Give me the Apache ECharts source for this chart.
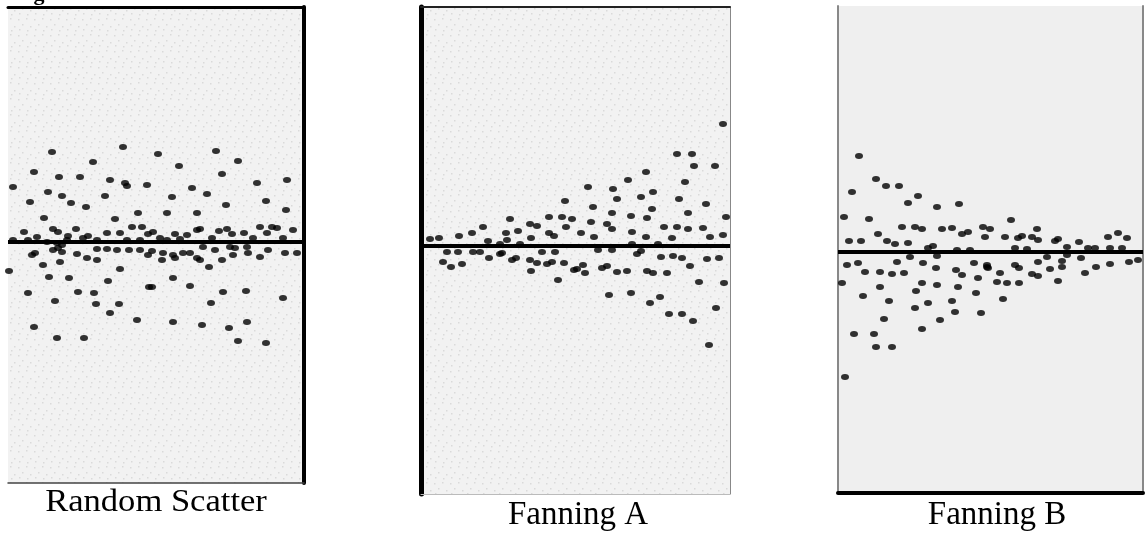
<!DOCTYPE html>
<html>
<head>
<meta charset="utf-8">
<script src="https://cdn.jsdelivr.net/npm/echarts@6/dist/echarts.min.js"></script>
<style>
html,body{margin:0;padding:0;background:#fff;}
#chart{width:1145px;height:535px;}
</style>
</head>
<body>
<div id="chart"></div>
<script>
// Panel titles
const panelTitles = ['Random Scatter', 'Fanning A', 'Fanning B'];

// Residual points [x, residual]
const randomScatter = [
[44,90],[115,95],[85,80],[26,70],[51,65],[72,65],[102,62],[5,55],[40,50],[54,46],[117,59],[119,56],[139,57],[97,46],[22,40],[63,39],[78,35],[130,29],[36,24],[107,23],[124,15],[134,15],[16,10],[45,13],[50,10],[68,13],[60,6],[80,6],[99,9],[112,9],[140,8],
[5,2],[20,2],[29,5],[39,0],[49,-1],[54,-3],[59,2],[75,4],[89,2],[119,2],[132,2],
[24,-13],[27,-11],[50,-6],[54,-10],[69,-12],[79,-16],[89,-7],[89,-18],[99,-7],[109,-8],[121,-8],[132,-8],[140,-13],[45,-8],[35,-23],[52,-20],[112,-27],[1,-29],[41,-35],[61,-36],[100,-39],[141,-45],[20,-51],[70,-50],[86,-51],[47,-59],[88,-62],[111,-62],[102,-71],[129,-78],[26,-85],[49,-96],[76,-96],
[150,88],[208,91],[230,81],[171,76],[214,68],[279,62],[249,59],[184,54],[199,48],[164,45],[258,41],[218,37],[278,32],[159,29],[189,29],
[145,10],[167,8],[179,7],[189,12],[192,13],[211,11],[219,13],[224,8],[236,9],[252,15],[259,9],[264,15],[269,14],[285,12],[204,4],[245,4],[275,4],[152,4],[159,2],[172,3],
[144,-9],[155,-11],[165,-13],[175,-11],[182,-11],[154,-18],[167,-16],[189,-16],[192,-18],[195,-5],[207,-8],[214,-18],[222,-5],[227,-6],[225,-13],[240,-11],[239,-5],[252,-15],[260,-8],[277,-11],[289,-11],
[201,-25],[165,-36],[182,-44],[144,-45],[215,-50],[238,-49],[275,-56],[203,-61],[165,-80],[194,-83],[221,-86],[239,-80],[230,-99],[258,-101]
];

const fanningA = [
[144,45],[89,27],[128,29],[141,29],[151,27],[62,19],[109,22],[116,20],[145,19],[51,13],[38,10],[97,15],[85,13],[128,13],[133,10],[110,8],[9,7],[18,8],[86,6],[67,5],[79,2],[99,2],
[26,-6],[37,-6],[52,-6],[59,-6],[81,-7],[22,-16],[30,-21],[41,-18],[68,-12],[79,-8],[91,-14],[95,-12],[109,-14],[116,-17],[126,-18],[131,-16],[143,-17],[121,-6],[134,-6],[110,-25],[137,-34],[153,-24],
[302,122],[256,92],[271,92],[273,80],[294,80],[225,74],[207,66],[264,64],[167,59],[192,57],[232,54],[196,47],[220,49],[258,47],[285,42],[172,39],[231,37],[191,33],[267,33],[210,30],[305,29],[226,28],[170,24],[186,22],[191,17],[243,19],[256,19],[267,17],[282,18],[160,13],[211,14],[289,9],[302,11],[173,9],[225,9],[251,8],[211,2],[237,2],
[177,-4],[191,-4],[216,-8],[220,-5],[240,-11],[252,-10],[261,-12],[286,-13],[298,-12],[269,-20],[156,-23],[162,-19],[164,-27],[181,-22],[186,-20],[196,-26],[206,-25],[226,-25],[232,-27],[246,-27],[278,-36],[303,-37],[188,-49],[210,-47],[239,-51],[229,-57],[295,-62],[248,-68],[261,-68],[272,-75],[288,-99]
];

const fanningB = [
[21,96],[38,73],[48,66],[61,66],[14,60],[80,56],[70,49],[121,48],[99,45],[6,35],[31,33],[64,25],[77,25],[84,23],[104,23],[114,24],[145,25],[124,18],[130,20],[147,15],[40,18],[11,11],[23,11],[49,11],[57,8],[70,9],[90,4],[95,6],[119,2],[132,2],
[72,-5],[99,-4],[9,-13],[20,-11],[27,-20],[42,-20],[54,-22],[66,-21],[59,-10],[85,-11],[98,-16],[118,-18],[124,-23],[136,-11],[149,-15],[4,-31],[42,-35],[84,-31],[99,-33],[120,-35],[140,-26],[25,-44],[78,-39],[138,-41],[51,-49],[90,-51],[114,-49],[77,-56],[117,-60],[143,-61],[46,-67],[102,-68],[84,-77],[16,-82],[36,-82],[38,-95],[54,-95],[7,-125],
[173,32],[152,23],[199,23],[167,15],[180,14],[184,16],[194,15],[200,12],[217,11],[220,13],[241,10],[270,15],[280,19],[289,14],[229,5],[177,4],[189,3],[250,4],[257,4],[272,4],[284,4],
[209,-5],[229,-3],[243,-6],[149,-13],[150,-16],[200,-10],[224,-9],[224,-15],[177,-13],[181,-16],[212,-17],[258,-15],[272,-12],[291,-10],[300,-8],[162,-21],[194,-22],[200,-24],[247,-21],[159,-30],[169,-31],[181,-31],[220,-29],[165,-47]
];

// Axis extents for each panel [xMin, xMax, yMin, yMax]
const extents = [
  [0, 296, -241, 235],
  [0, 309, -248, 239],
  [0, 305, -241, 246]
];

const panelData = [randomScatter, fanningA, fanningB];

// stippled paper texture for the scanned panels
function stipple() {
  const c = document.createElement('canvas');
  c.width = 16; c.height = 16;
  const ctx = c.getContext('2d');
  ctx.fillStyle = '#f2f2f2';
  ctx.fillRect(0, 0, 16, 16);
  ctx.fillStyle = '#dadada';
  [[2,3],[10,2],[6,8],[14,10],[3,13],[11,14]].forEach(p => ctx.fillRect(p[0], p[1], 1.5, 1.5));
  return c;
}
const tex = stipple();

// layout & styles
const grids = [
  {left: 8, top: 7, width: 296, height: 476, backgroundColor: {image: tex, repeat: 'repeat'}},
  {left: 421, top: 7, width: 309, height: 487, backgroundColor: {image: tex, repeat: 'repeat'}},
  {left: 838, top: 6, width: 305, height: 487, backgroundColor: '#efefef'}
];
// border styles: [bottom, top, left, right]  (null = none)
const borders = [
  [{c:'#444', w:1.5}, {c:'#000', w:3}, null, {c:'#000', w:4}],
  [{c:'#bbb', w:1}, {c:'#222', w:2}, {c:'#000', w:5}, {c:'#888', w:1}],
  [{c:'#000', w:4}, null, {c:'#888', w:2}, {c:'#888', w:2}]
];

function axisLine(b) {
  return b ? {show: true, onZero: false, lineStyle: {color: b.c, width: b.w}} : {show: false};
}

const xAxes = [], yAxes = [], series = [];
grids.forEach((g, i) => {
  const e = extents[i];
  const common = {axisTick:{show:false}, axisLabel:{show:false}, splitLine:{show:false}};
  xAxes.push(Object.assign({type:'value', gridIndex:i, min:e[0], max:e[1], position:'bottom', axisLine: axisLine(borders[i][0])}, common));
  xAxes.push(Object.assign({type:'value', gridIndex:i, min:e[0], max:e[1], position:'top', axisLine: axisLine(borders[i][1])}, common));
  yAxes.push(Object.assign({type:'value', gridIndex:i, min:e[2], max:e[3], position:'left', axisLine: axisLine(borders[i][2])}, common));
  yAxes.push(Object.assign({type:'value', gridIndex:i, min:e[2], max:e[3], position:'right', axisLine: axisLine(borders[i][3])}, common));
  series.push({
    type: 'scatter',
    xAxisIndex: 2*i, yAxisIndex: 2*i,
    data: panelData[i],
    symbol: 'circle',
    symbolSize: [8, 6],
    itemStyle: {color: '#000'},
    silent: true,
    markLine: {
      silent: true, symbol: 'none',
      label: {show: false},
      lineStyle: {color: '#000', width: 4, type: 'solid'},
      data: [{yAxis: 0}]
    }
  });
});

const labelPos = [
  {x: 156, y: 503, size: 32, sx: 1.08},
  {x: 578, y: 515, size: 33, sx: 1.0},
  {x: 997, y: 515, size: 33, sx: 1.0}
];

const graphic = labelPos.map((p, i) => ({
  type: 'text', x: p.x, y: p.y, scaleX: p.sx, silent: true,
  style: {text: panelTitles[i], fontFamily: '"Liberation Serif", "Times New Roman", serif', fontSize: p.size, fill: '#000', textAlign: 'center', textVerticalAlign: 'middle'}
}));
graphic.push({
  type: 'text', x: 14, y: 5, silent: true,
  style: {text: 'Fig', fontFamily: '"Liberation Serif", serif', fontWeight: 'bold', fontSize: 22, fill: '#000', textAlign: 'left', textVerticalAlign: 'bottom'}
});

const chart = echarts.init(document.getElementById('chart'), null, {renderer: 'canvas'});
chart.setOption({
  animation: false,
  backgroundColor: '#fff',
  grid: grids.map(g => Object.assign({show: true, borderWidth: 0}, g)),
  xAxis: xAxes,
  yAxis: yAxes,
  series: series,
  graphic: graphic
});
</script>
</body>
</html>
